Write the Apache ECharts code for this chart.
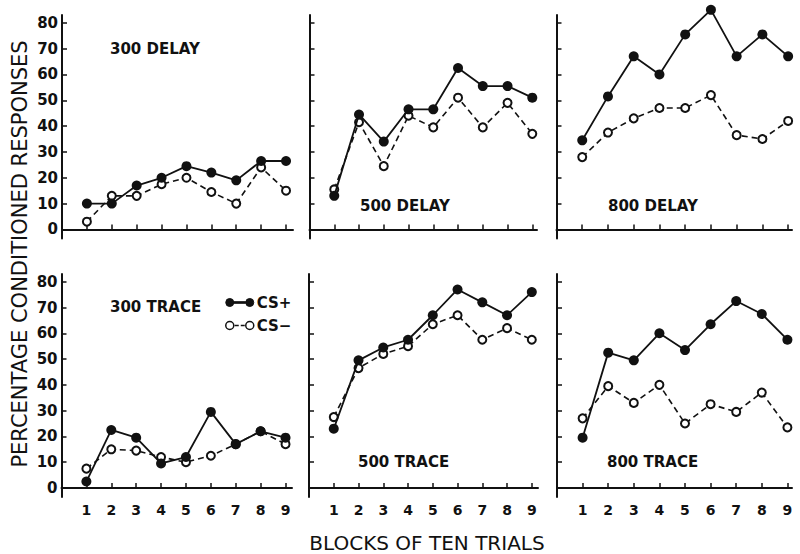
<!DOCTYPE html>
<html><head><meta charset="utf-8">
<script src="https://cdn.jsdelivr.net/npm/echarts@6/dist/echarts.min.js"></script>
<style>html,body{margin:0;padding:0;background:#fff}#c{width:800px;height:554px}</style>
</head><body><div id="c"></div>
<script>
// ---- data ----
const blocks = [1, 2, 3, 4, 5, 6, 7, 8, 9];
const yTicks = [0, 10, 20, 30, 40, 50, 60, 70, 80];
const panelNames = ['300 DELAY', '500 DELAY', '800 DELAY', '300 TRACE', '500 TRACE', '800 TRACE'];
const seriesNames = ['CS+', 'CS\u2212'];
const yTitle = 'PERCENTAGE CONDITIONED RESPONSES';
const xTitle = 'BLOCKS OF TEN TRIALS';

const csPlus300Delay  = [10, 10, 17, 20, 24.5, 22, 19, 26.5, 26.5];
const csMinus300Delay = [3, 13, 13, 17.5, 20, 14.5, 10, 24, 15];
const csPlus500Delay  = [13, 44.5, 34, 46.5, 46.5, 62.5, 55.5, 55.5, 51];
const csMinus500Delay = [15.5, 41.5, 24.5, 44, 39.5, 51, 39.5, 49, 37];
const csPlus800Delay  = [34.5, 51.5, 67, 60, 75.5, 85, 67, 75.5, 67];
const csMinus800Delay = [28, 37.5, 43, 47, 47, 52, 36.5, 35, 42];
const csPlus300Trace  = [2.5, 22.5, 19.5, 9.5, 12, 29.5, 17, 22, 19.5];
const csMinus300Trace = [7.5, 15, 14.5, 12, 10, 12.5, 17, 22, 17];
const csPlus500Trace  = [23, 49.5, 54.5, 57.5, 67, 77, 72, 67, 76];
const csMinus500Trace = [27.5, 46.5, 52, 55, 63.5, 67, 57.5, 62, 57.5];
const csPlus800Trace  = [19.5, 52.5, 49.5, 60, 53.5, 63.5, 72.5, 67.5, 57.5];
const csMinus800Trace = [27, 39.5, 33, 40, 25, 32.5, 29.5, 37, 23.5];

const plusData = [csPlus300Delay, csPlus500Delay, csPlus800Delay, csPlus300Trace, csPlus500Trace, csPlus800Trace];
const minusData = [csMinus300Delay, csMinus500Delay, csMinus800Delay, csMinus300Trace, csMinus500Trace, csMinus800Trace];

// ---- layout ----
const gridBoxes = [
  {left: 62, top: 15, width: 231, height: 223.5, xmax: 9.28},
  {left: 309.5, top: 15, width: 227.5, height: 223.5, xmax: 9.19},
  {left: 556.5, top: 15, width: 235.5, height: 223.5, xmax: 9.15},
  {left: 61.5, top: 274, width: 230.5, height: 223, xmax: 9.26},
  {left: 309, top: 274, width: 229, height: 223, xmax: 9.25},
  {left: 557, top: 274, width: 235, height: 223, xmax: 9.18}
];
const labelPos = [
  [110, 50], [360, 207], [608, 207],
  [110, 308], [358, 463], [607, 463]
];
const FONT = 'DejaVu Sans';
const INK = '#111';

const grids = [], xAxes = [], yAxes = [], series = [], graphics = [];
gridBoxes.forEach((g, i) => {
  grids.push({left: g.left, top: g.top, width: g.width, height: g.height, containLabel: false});
  const bottomRow = i >= 3, leftCol = i % 3 === 0;
  xAxes.push({
    type: 'value', gridIndex: i, min: 0, max: g.xmax,
    axisLine: {show: true, lineStyle: {color: INK, width: 2}},
    axisTick: {show: true, inside: true, length: 5, lineStyle: {color: INK, width: 1.5}, customValues: blocks},
    axisLabel: {show: bottomRow, customValues: blocks, color: INK, fontFamily: FONT, fontWeight: 'bold', fontSize: 14, margin: 6},
    splitLine: {show: false}
  });
  yAxes.push({
    type: 'value', gridIndex: i, min: -3.5, max: 83,
    axisLine: {show: true, onZero: false, lineStyle: {color: INK, width: 2}},
    axisTick: {show: true, inside: true, length: 5, lineStyle: {color: INK, width: 1.5}, customValues: yTicks},
    axisLabel: {show: leftCol, customValues: yTicks, color: INK, fontFamily: FONT, fontWeight: 'bold', fontSize: 15, margin: 4},
    splitLine: {show: false}
  });
  series.push({
    name: seriesNames[1], type: 'line', xAxisIndex: i, yAxisIndex: i, clip: false,
    data: blocks.map((b, k) => [b, minusData[i][k]]),
    symbol: 'circle', symbolSize: 8,
    lineStyle: {color: INK, width: 1.6, type: [6, 4]},
    itemStyle: {color: '#fff', borderColor: INK, borderWidth: 2},
    emphasis: {disabled: true}, z: 2
  });
  series.push({
    name: seriesNames[0], type: 'line', xAxisIndex: i, yAxisIndex: i, clip: false,
    data: blocks.map((b, k) => [b, plusData[i][k]]),
    symbol: 'circle', symbolSize: 10,
    lineStyle: {color: INK, width: 1.8, type: 'solid'},
    itemStyle: {color: INK, borderColor: INK, borderWidth: 0},
    emphasis: {disabled: true}, z: 3
  });
  graphics.push({
    type: 'text', left: labelPos[i][0], top: labelPos[i][1] - 9,
    style: {text: panelNames[i], fill: INK, font: 'bold 15px "DejaVu Sans"'}
  });
});
graphics.push({
  type: 'text', x: 20, y: 254, rotation: Math.PI / 2,
  style: {text: yTitle, fill: INK, font: '21px "DejaVu Sans"', align: 'center', verticalAlign: 'middle'}
});
graphics.push({
  type: 'text', x: 427, y: 543,
  style: {text: xTitle, fill: INK, font: '20px "DejaVu Sans"', align: 'center', verticalAlign: 'middle'}
});

const plusIcon = 'path://M1,5A4,4 0 1,0 9,5A4,4 0 1,0 1,5Z M9,4.2L21,4.2L21,5.8L9,5.8Z M21,5A4,4 0 1,0 29,5A4,4 0 1,0 21,5Z';
const minusIcon = 'path://M1,5A4,4 0 1,0 9,5A4,4 0 1,0 1,5Z M10,5L14,5 M16,5L20,5 M21,5A4,4 0 1,0 29,5A4,4 0 1,0 21,5Z';

const chart = echarts.init(document.getElementById('c'), null, {renderer: 'svg'});
chart.setOption({
  animation: false,
  backgroundColor: '#fff',
  grid: grids, xAxis: xAxes, yAxis: yAxes, series: series,
  legend: {
    data: [
      {name: seriesNames[0], icon: plusIcon, itemStyle: {color: INK, borderColor: INK, borderWidth: 1}},
      {name: seriesNames[1], icon: minusIcon, itemStyle: {color: '#fff', borderColor: INK, borderWidth: 1.5}}
    ],
    orient: 'vertical', left: 220, top: 290, itemGap: 8,
    itemWidth: 28, itemHeight: 10,
    textStyle: {color: INK, fontFamily: FONT, fontWeight: 'bold', fontSize: 15, padding: [0, 0, 0, -2]},
    selectedMode: false
  },
  graphic: graphics
});
</script></body></html>
